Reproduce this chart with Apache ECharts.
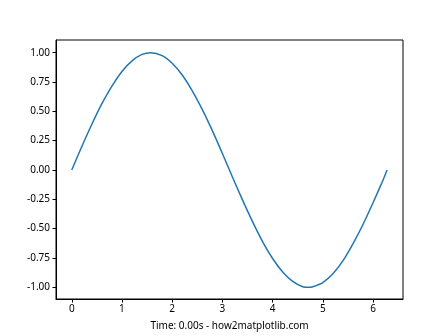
<!DOCTYPE html>
<html><head><meta charset="utf-8">
<script src="https://cdn.jsdelivr.net/npm/echarts@6/dist/echarts.min.js"></script>
<style>html,body{margin:0;padding:0;background:#fff}#c{width:448px;height:336px}</style>
</head><body><div id="c"></div>
<script>
const xValues = [0, 0.2, 0.4, 0.6, 0.8, 1.0, 1.2, 1.4, 1.57, 1.8, 2.0, 2.2, 2.4, 2.6, 2.8, 3.0, 3.2, 3.4, 3.6, 3.8, 4.0, 4.2, 4.4, 4.6, 4.71, 4.8, 5.0, 5.2, 5.4, 5.6, 5.8, 6.0, 6.2, 6.28];
const yValues = [0, 0.20, 0.39, 0.565, 0.715, 0.84, 0.93, 0.985, 1.0, 0.975, 0.91, 0.81, 0.675, 0.515, 0.335, 0.14, -0.06, -0.255, -0.44, -0.61, -0.755, -0.87, -0.95, -0.995, -1.0, -0.995, -0.96, -0.885, -0.775, -0.63, -0.465, -0.28, -0.085, 0];
const xTicks = [0, 1, 2, 3, 4, 5, 6];
const yTicks = [-1.0, -0.75, -0.5, -0.25, 0, 0.25, 0.5, 0.75, 1.0];
const xLabel = 'Time: 0.00s - how2matplotlib.com';

const font = 'Noto Sans';
const chart = echarts.init(document.getElementById('c'), null, {renderer: 'canvas'});
chart.setOption({
  animation: false,
  grid: {left: 56, top: 40, right: 45, bottom: 37, show: true, borderColor: '#000', borderWidth: 1, containLabel: false},
  xAxis: {
    type: 'value', min: -0.314, max: 6.597,
    name: xLabel, nameLocation: 'middle', nameGap: 22,
    nameTextStyle: {color: '#000', fontSize: 10, fontFamily: font},
    axisLine: {show: true, onZero: false, lineStyle: {color: '#000', width: 1}},
    axisTick: {show: true, length: 3.5, customValues: xTicks, lineStyle: {color: '#000'}},
    axisLabel: {customValues: xTicks, color: '#000', fontSize: 10, fontFamily: font, margin: 5,
      formatter: v => String(v)},
    splitLine: {show: false}
  },
  yAxis: {
    type: 'value', min: -1.1, max: 1.108,
    axisLine: {show: true, onZero: false, lineStyle: {color: '#000', width: 1}},
    axisTick: {show: true, length: 3.5, customValues: yTicks, lineStyle: {color: '#000'}},
    axisLabel: {customValues: yTicks, color: '#000', fontSize: 10, fontFamily: font, margin: 6,
      formatter: v => v.toFixed(2)},
    splitLine: {show: false}
  },
  series: [{
    type: 'line', smooth: 0.25, showSymbol: false,
    data: xValues.map((x, i) => [x, yValues[i]]),
    lineStyle: {color: '#1f77b4', width: 1.5}
  }]
});
</script></body></html>
